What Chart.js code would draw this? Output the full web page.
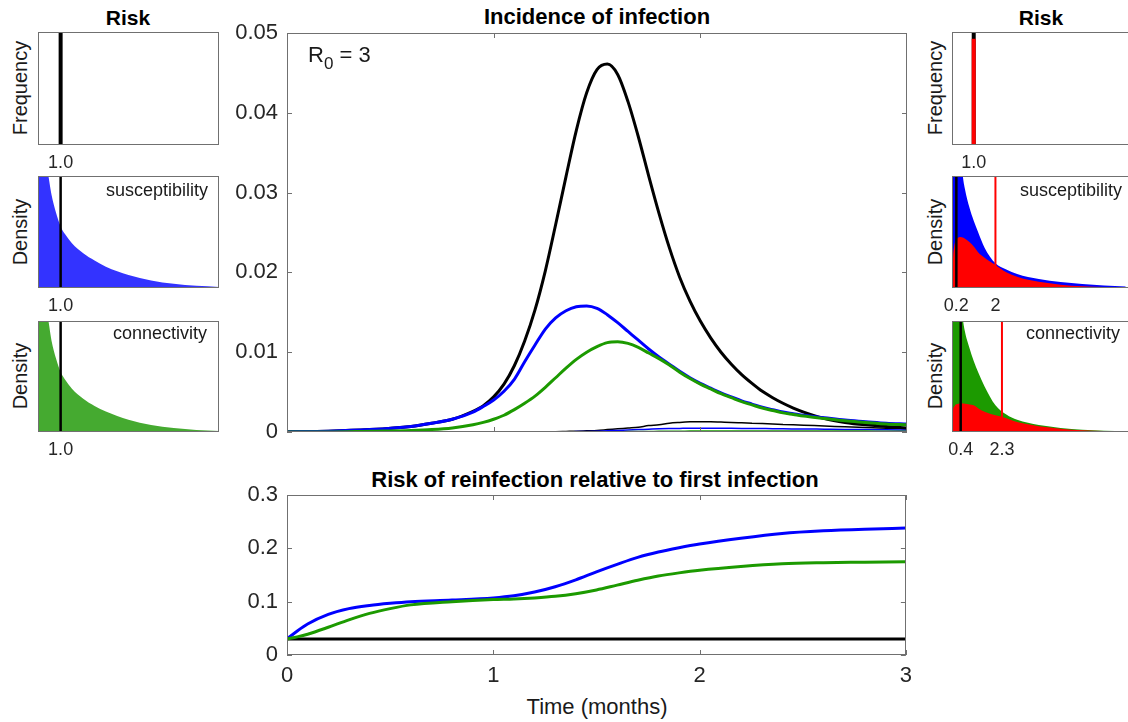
<!DOCTYPE html>
<html>
<head>
<meta charset="utf-8">
<script src="https://cdn.jsdelivr.net/npm/chart.js@4.4.1/dist/chart.umd.min.js"></script>
<style>
html, body { margin: 0; padding: 0; background: #fff; overflow: hidden; }
body { width: 1128px; height: 722px; position: relative; font-family: "Liberation Sans", Arial, sans-serif; color: #1a1a1a; }
canvas { position: absolute; }
.t { position: absolute; white-space: nowrap; line-height: 1; transform: translate(-50%, -50%); }
.b { font-weight: bold; font-size: 22px; color: #000; }
.ylab { font-size: 20px; transform: translate(-50%, -50%) rotate(-90deg); }
.note { position: absolute; white-space: nowrap; line-height: 1; font-size: 18px; transform: translate(-100%, -50%); }
.r0 { position: absolute; white-space: nowrap; line-height: 1; font-size: 22px; }
.r0 sub { font-size: 17px; vertical-align: -7px; }
</style>
</head>
<body>
<div class="t b" style="left:128px;top:17px;font-size:21px">Risk</div>
<div class="t b" style="left:1041px;top:17px;font-size:21px">Risk</div>
<div class="t b" style="left:597px;top:17px">Incidence of infection</div>
<div class="t b" style="left:595px;top:480px">Risk of reinfection relative to first infection</div>
<div class="t" style="left:597px;top:707px;font-size:22px">Time (months)</div>

<div class="t ylab" style="left:20px;top:88px">Frequency</div>
<div class="t ylab" style="left:20px;top:232px">Density</div>
<div class="t ylab" style="left:20px;top:376px">Density</div>
<div class="t ylab" style="left:935px;top:88px">Frequency</div>
<div class="t ylab" style="left:935px;top:232px">Density</div>
<div class="t ylab" style="left:935px;top:376px">Density</div>

<canvas id="main"></canvas>
<canvas id="reinf"></canvas>
<canvas id="lFreq"></canvas>
<canvas id="lSusc"></canvas>
<canvas id="lConn"></canvas>
<canvas id="rFreq"></canvas>
<canvas id="rSusc"></canvas>
<canvas id="rConn"></canvas>

<div class="note" style="left:208px;top:190px">susceptibility</div>
<div class="note" style="left:207px;top:333px">connectivity</div>
<div class="note" style="left:1122px;top:190px">susceptibility</div>
<div class="note" style="left:1120px;top:333px">connectivity</div>
<div class="r0" style="left:308px;top:44px">R<sub>0</sub> = 3</div>

<script>
// incidence of infection, time in months
const times = [0, 0.2, 0.4, 0.6, 0.7, 0.8,
  0.9, 0.95, 1.0, 1.05, 1.1, 1.15, 1.2, 1.25, 1.3, 1.35, 1.4, 1.45, 1.5, 1.55, 1.6, 1.65, 1.7,
  1.75, 1.8, 1.85, 1.9, 1.95, 2.0, 2.05, 2.1, 2.15, 2.2, 2.25, 2.3, 2.35, 2.4, 2.45, 2.5,
  2.6, 2.7, 2.8, 2.9, 3.0];
const incHomog = [0.00003, 0.0001, 0.0003, 0.0007, 0.0011, 0.0016,
  0.0026, 0.0033, 0.0044, 0.0060, 0.0083, 0.0114, 0.0153, 0.0202, 0.0260, 0.0320, 0.0378, 0.0425, 0.0454, 0.0461, 0.0448, 0.0414, 0.0370,
  0.0321, 0.0274, 0.0231, 0.0194, 0.0164, 0.0139, 0.0118, 0.0100, 0.0085, 0.0072, 0.0061, 0.0051, 0.0043, 0.0036, 0.0030, 0.0025,
  0.0017, 0.0012, 0.0009, 0.0007, 0.0005];
const incSusc = [0.00003, 0.0001, 0.0003, 0.0007, 0.0011, 0.0016,
  0.0025, 0.0032, 0.0040, 0.0051, 0.0066, 0.0088, 0.0109, 0.0129, 0.0143, 0.0152, 0.0157, 0.0158, 0.0155, 0.0147, 0.0137, 0.0126, 0.0115,
  0.0104, 0.0094, 0.0085, 0.0076, 0.0068, 0.0061, 0.0055, 0.0049, 0.0044, 0.0039, 0.0035, 0.0031, 0.0028, 0.0025, 0.0023, 0.0021,
  0.0018, 0.0015, 0.0013, 0.0011, 0.0010];
const incConn = [0, 0, 0.0001, 0.0002, 0.0003, 0.0005,
  0.0009, 0.0012, 0.0016, 0.0021, 0.0028, 0.0036, 0.0045, 0.0056, 0.0068, 0.0080, 0.0091, 0.0100, 0.0107, 0.0112, 0.0113, 0.0111, 0.0106,
  0.0099, 0.0092, 0.0084, 0.0075, 0.0067, 0.0060, 0.0054, 0.0048, 0.0043, 0.0038, 0.0034, 0.0030, 0.0027, 0.0024, 0.0022, 0.0020,
  0.0017, 0.0014, 0.0012, 0.0010, 0.0009];
// reinfections (thin lines)
const reHomog = [0, 0, 0, 0, 0, 0,
  0, 0, 0, 0, 0, 0, 0, 0.00002, 0.00004, 0.00007, 0.0001, 0.00015, 0.0002, 0.0003, 0.0004, 0.0005, 0.0006,
  0.0008, 0.0009, 0.0011, 0.0012, 0.00127, 0.0013, 0.00128, 0.00124, 0.0012, 0.00115, 0.0011, 0.00105, 0.0010, 0.00095, 0.0009, 0.00085,
  0.00075, 0.00065, 0.00055, 0.00047, 0.0004];
const reSuscInc = [0, 0, 0, 0, 0, 0,
  0, 0, 0, 0, 0, 0, 0, 0, 0.00002, 0.00003, 0.00005, 0.00007, 0.0001, 0.00015, 0.0002, 0.00025, 0.0003,
  0.00035, 0.0004, 0.00043, 0.00045, 0.00047, 0.00048, 0.00048, 0.00047, 0.00046, 0.00045, 0.00044, 0.00043, 0.00042, 0.0004, 0.00039, 0.00038,
  0.00035, 0.00032, 0.0003, 0.00027, 0.00025];
const reConnInc = [0, 0, 0, 0, 0, 0,
  0, 0, 0, 0, 0, 0, 0, 0, 0, 0, 0.00001, 0.00001, 0.00002, 0.00003, 0.00004, 0.00005, 0.00006,
  0.00007, 0.00008, 0.00009, 0.0001, 0.00011, 0.00012, 0.00012, 0.00013, 0.00013, 0.00013, 0.00013, 0.00013, 0.00013, 0.00013, 0.00012, 0.00012,
  0.00012, 0.00011, 0.00011, 0.0001, 0.0001];
const incTicks = [0, 0.01, 0.02, 0.03, 0.04, 0.05];
const monthTicks = [0, 1, 2, 3];

// risk of reinfection relative to first infection
const reTimes = [0, 0.05, 0.1, 0.2, 0.3, 0.4, 0.5, 0.6, 0.8, 1.0, 1.1, 1.2, 1.3, 1.4, 1.5, 1.6, 1.7, 1.8, 1.9, 2.0, 2.2, 2.4, 2.6, 2.8, 3.0];
const relSusc = [0.030, 0.045, 0.058, 0.076, 0.087, 0.093, 0.097, 0.100, 0.103, 0.107, 0.111, 0.118, 0.128, 0.141, 0.156, 0.170, 0.183, 0.193, 0.201, 0.208, 0.219, 0.228, 0.233, 0.236, 0.238];
const relConn = [0.030, 0.034, 0.039, 0.052, 0.066, 0.078, 0.087, 0.094, 0.100, 0.104, 0.105, 0.107, 0.110, 0.115, 0.122, 0.131, 0.140, 0.148, 0.154, 0.159, 0.166, 0.171, 0.173, 0.174, 0.175];
const relHomogTimes = [0, 3];
const relHomog = [0.03, 0.03];
const relTicks = [0, 0.1, 0.2, 0.3];

// risk distributions
const riskGrid = [0.01, 0.05, 0.1, 0.2, 0.3, 0.4, 0.5, 0.6, 0.8, 1.0, 1.2, 1.5, 2.0, 2.5, 3.0, 3.5, 4.0, 5.0, 6.0, 7.0, 8.0];
const suscPrior = [10, 4.0, 2.8, 1.8, 1.35, 1.1, 0.95, 0.83, 0.67, 0.55, 0.48, 0.40, 0.31, 0.245, 0.19, 0.15, 0.115, 0.068, 0.038, 0.02, 0.01];
const connPrior = [10, 4.0, 2.8, 1.8, 1.35, 1.1, 0.95, 0.82, 0.66, 0.54, 0.47, 0.39, 0.30, 0.235, 0.185, 0.145, 0.11, 0.063, 0.035, 0.018, 0.01];
const suscAfter = [10, 5, 3.5, 2.2, 1.6, 1.25, 1.0, 0.88, 0.72, 0.60, 0.50, 0.36, 0.22, 0.165, 0.125, 0.098, 0.08, 0.053, 0.035, 0.022, 0.014];
const suscInfected = [0.05, 0.28, 0.37, 0.43, 0.45, 0.455, 0.45, 0.44, 0.41, 0.37, 0.32, 0.27, 0.205, 0.14, 0.10, 0.073, 0.055, 0.03, 0.016, 0.009, 0.005];
const connAfter = [10, 5, 3.5, 2.2, 1.6, 1.25, 1.02, 0.9, 0.76, 0.64, 0.54, 0.41, 0.24, 0.157, 0.11, 0.083, 0.063, 0.037, 0.021, 0.012, 0.008];
const connInfected = [0.05, 0.2, 0.23, 0.25, 0.255, 0.258, 0.257, 0.255, 0.248, 0.24, 0.215, 0.182, 0.15, 0.125, 0.09, 0.07, 0.052, 0.03, 0.016, 0.009, 0.005];
const homogRisk = 1.0;
const homogFreq = 1.0;
const homogFreqInfected = 0.94;
const suscMeans = [0.2, 2];     // mean risk before / among infected
const connMeans = [0.4, 2.3];

const FONT = '"Liberation Sans", Arial, sans-serif';
const BLUE = '#0000ff', GREEN = '#1c9a00', RED = '#ff0000';

const framePlugin = {
  id: 'frame',
  afterDraw(chart, args, opts) {
    const { ctx, chartArea: a } = chart;
    ctx.save();
    ctx.strokeStyle = '#707070';
    ctx.lineWidth = 1;
    ctx.strokeRect(Math.round(a.left) + 0.5, Math.round(a.top) + 0.5, Math.round(a.width) - 1, Math.round(a.height) - 1);
    const L = 5;
    ctx.beginPath();
    (opts.yTicks || []).forEach(v => {
      const y = Math.round(chart.scales.y.getPixelForValue(v)) + 0.5;
      ctx.moveTo(a.left, y); ctx.lineTo(a.left + L, y);
      ctx.moveTo(a.right - L, y); ctx.lineTo(a.right, y);
    });
    (opts.xTicks || []).forEach(v => {
      const x = Math.round(chart.scales.x.getPixelForValue(v)) + 0.5;
      ctx.moveTo(x, a.top); ctx.lineTo(x, a.top + L);
      ctx.moveTo(x, a.bottom - L); ctx.lineTo(x, a.bottom);
    });
    ctx.stroke();
    ctx.restore();
  }
};

function pts(xs, ys) { return xs.map((x, i) => ({ x: x, y: ys[i] })); }
function curve(xs, ys, color, width, order) {
  return { data: pts(xs, ys), borderColor: color, borderWidth: width, pointRadius: 0,
           cubicInterpolationMode: 'monotone', fill: false, order: order };
}
function area(ys, color, order) {
  return { data: pts(riskGrid, ys), borderWidth: 0, borderColor: color, backgroundColor: color, pointRadius: 0,
           cubicInterpolationMode: 'monotone', fill: 'origin', order: order };
}
function vline(x, top, color, width, order) {
  return { data: [{ x: x, y: 0 }, { x: x, y: top }], borderColor: color, borderWidth: width, pointRadius: 0,
           tension: 0, fill: false, order: order };
}
function place(id, left, top, w, h) {
  const cv = document.getElementById(id);
  cv.width = w; cv.height = h;
  cv.style.left = left + 'px'; cv.style.top = top + 'px';
  return cv;
}
const noGrid = { display: false, drawTicks: false };
const fixY = w => s => { s.width = w; s.paddingTop = 0; s.paddingBottom = 0; };

// main incidence chart
new Chart(place('main', 220, 0, 700, 445), {
  type: 'line',
  data: { datasets: [
    curve(times, incConn, GREEN, 3, 1),
    curve(times, incSusc, BLUE, 3, 2),
    curve(times, incHomog, '#000', 3, 3),
    curve(times, reConnInc, GREEN, 1.5, 4),
    curve(times, reSuscInc, BLUE, 1.5, 5),
    curve(times, reHomog, '#000', 1.5, 6)
  ] },
  options: {
    responsive: false, animation: false, events: [],
    layout: { padding: { left: 0, right: 13, top: 33, bottom: 13 } },
    plugins: { legend: { display: false }, tooltip: { enabled: false },
               frame: { xTicks: [1, 2], yTicks: incTicks } },
    scales: {
      x: { type: 'linear', display: false, min: 0, max: 3 },
      y: { min: 0, max: 0.05, grid: noGrid, border: { display: false },
           afterFit: fixY(67),
           afterBuildTicks: s => { s.ticks = incTicks.map(v => ({ value: v })); },
           ticks: { padding: 9, color: '#262626', font: { size: 22, family: FONT },
                    callback: v => v === 0 ? '0' : v.toFixed(2) } }
    }
  },
  plugins: [framePlugin]
});

// relative risk of reinfection
new Chart(place('reinf', 220, 470, 700, 252), {
  type: 'line',
  data: { datasets: [
    curve(reTimes, relConn, GREEN, 3, 1),
    curve(reTimes, relSusc, BLUE, 3, 2),
    curve(relHomogTimes, relHomog, '#000', 3, 3)
  ] },
  options: {
    responsive: false, animation: false, events: [],
    layout: { padding: { left: 0, right: 13, top: 25, bottom: 0 } },
    plugins: { legend: { display: false }, tooltip: { enabled: false },
               frame: { xTicks: monthTicks, yTicks: relTicks } },
    scales: {
      x: { type: 'linear', min: 0, max: 3, grid: noGrid, border: { display: false },
           afterFit: s => { s.height = 67; },
           afterBuildTicks: s => { s.ticks = monthTicks.map(v => ({ value: v })); },
           ticks: { padding: 8, maxRotation: 0, autoSkip: false, color: '#262626', font: { size: 22, family: FONT },
                    callback: v => String(v) } },
      y: { min: 0, max: 0.3, grid: noGrid, border: { display: false },
           afterFit: fixY(67),
           afterBuildTicks: s => { s.ticks = relTicks.map(v => ({ value: v })); },
           ticks: { padding: 9, color: '#262626', font: { size: 22, family: FONT },
                    callback: v => v === 0 ? '0' : v.toFixed(1) } }
    }
  },
  plugins: [framePlugin]
});

// small risk distribution panels
function smallPanel(id, bx, by, bw, bh, xMax, tickVals, tickLabels, datasets) {
  const pad = 16;
  new Chart(place(id, bx - pad, by - 2, bw + 2 * pad, bh + 34), {
    type: 'line',
    data: { datasets: datasets },
    options: {
      responsive: false, animation: false, events: [],
      layout: { padding: { left: pad, right: pad, top: 2, bottom: 0 } },
      plugins: { legend: { display: false }, tooltip: { enabled: false }, frame: {} },
      scales: {
        x: { type: 'linear', min: 0, max: xMax, grid: noGrid, border: { display: false },
             afterFit: s => { s.height = 32; s.paddingLeft = 0; s.paddingRight = 0; },
             afterBuildTicks: s => { s.ticks = tickVals.map(v => ({ value: v })); },
             ticks: { padding: 7, maxRotation: 0, autoSkip: false, color: '#262626', font: { size: 18, family: FONT },
                      callback: (v, i) => tickLabels[i] } },
        y: { display: false, min: 0, max: 1 }
      }
    },
    plugins: [framePlugin]
  });
}

smallPanel('lFreq', 38, 32, 181, 113, 8, [homogRisk], ['1.0'], [
  vline(homogRisk, homogFreq, '#000', 4, 1)
]);
smallPanel('lSusc', 38, 176, 181, 112, 8, [homogRisk], ['1.0'], [
  vline(homogRisk, 1, '#000', 2.5, 1),
  area(suscPrior, '#3333ff', 2)
]);
smallPanel('lConn', 38, 321, 181, 111, 8, [homogRisk], ['1.0'], [
  vline(homogRisk, 1, '#000', 2.5, 1),
  area(connPrior, '#45aa30', 2)
]);
smallPanel('rFreq', 952, 32, 177, 113, 8.15, [homogRisk], ['1.0'], [
  vline(homogRisk, homogFreqInfected, RED, 4, 1),
  vline(homogRisk, homogFreq, '#000', 4, 2)
]);
smallPanel('rSusc', 952, 176, 177, 112, 8.15, suscMeans, ['0.2', '2'], [
  vline(suscMeans[1], 1, RED, 2, 1),
  vline(suscMeans[0], 1, '#000', 2.5, 2),
  area(suscInfected, RED, 3),
  area(suscAfter, BLUE, 4)
]);
smallPanel('rConn', 952, 321, 177, 111, 8.15, connMeans, ['0.4', '2.3'], [
  vline(connMeans[1], 1, RED, 2, 1),
  vline(connMeans[0], 1, '#000', 2.5, 2),
  area(connInfected, RED, 3),
  area(connAfter, GREEN, 4)
]);
</script>
</body>
</html>
